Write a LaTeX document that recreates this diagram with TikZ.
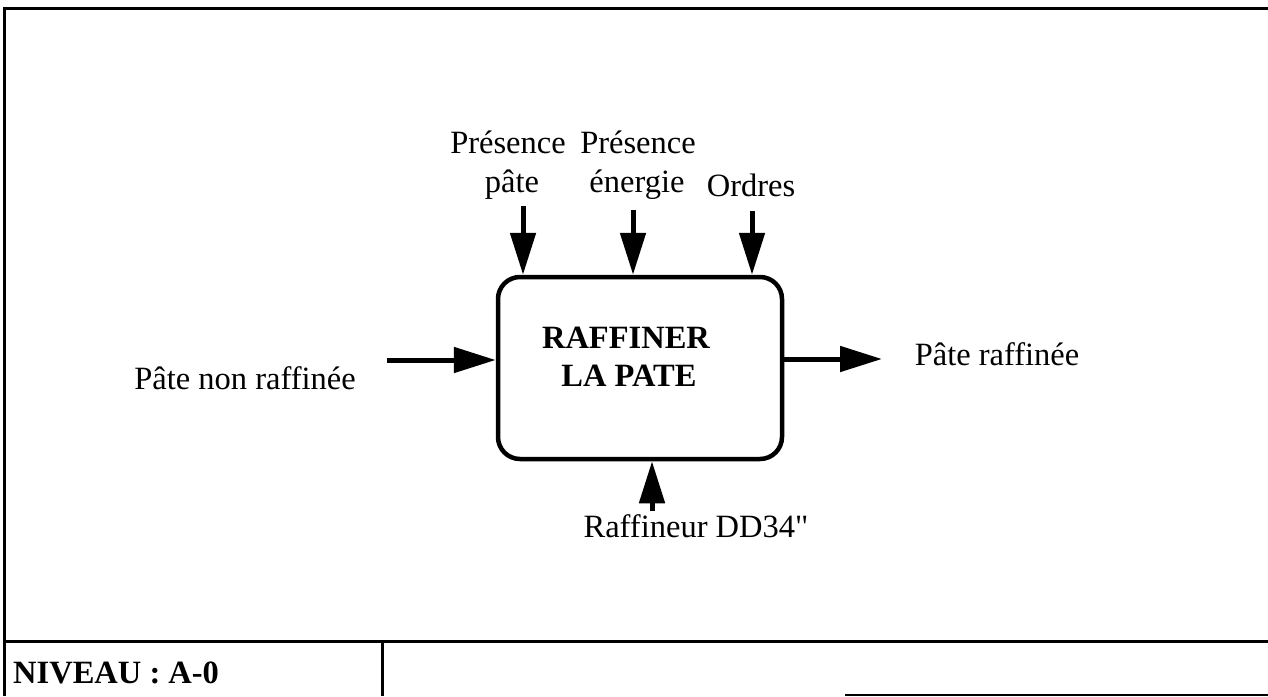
\documentclass[tikz,border=0pt]{standalone}
\usepackage{fontspec}
\setmainfont{Liberation Serif}[Ligatures=TeXOff]
\usetikzlibrary{arrows.meta}
\begin{document}
\begin{tikzpicture}[x=1pt,y=-1pt,
  lbl/.style={font=\fontsize{32.5}{39}\selectfont, inner sep=0pt, anchor=base},
  ttl/.style={font=\fontsize{32.5}{39}\selectfont\bfseries, inner sep=0pt, anchor=base},
  frm/.style={line width=3pt},
  arr/.style={line width=5pt, -{Triangle[length=42pt,width=25pt]}},
  proc/.style={draw, line width=4.5pt, rounded corners=22pt, minimum width=284pt, minimum height=182pt, inner sep=0pt}]
\useasboundingbox (0,0) rectangle (1268,696);
% frame
\draw[frm] (1268,8) -- (4,8) -- (4,696);
\draw[frm] (4,641) -- (1268,641);
\draw[frm] (382,641) -- (382,696);
\draw[line width=2pt] (845,694.5) -- (1268,694.5);
\node[ttl, anchor=base west] (niv) at (13,683) {NIVEAU : A-0};
% process box
\node[proc] (box) at (640,368) {};
\node[ttl] (t1) at (626,348) {RAFFINER};
\node[ttl] (t2) at (629,386) {LA PATE};
% labels
\node[lbl] (pp1) at (508,153) {Présence};
\node[lbl] (pp2) at (512,192) {pâte};
\node[lbl] (pe1) at (638,153) {Présence};
\node[lbl] (pe2) at (637,192) {énergie};
\node[lbl] (ord) at (751,196) {Ordres};
\node[lbl] (in) at (245,389) {Pâte non raffinée};
\node[lbl] (out) at (997,365) {Pâte raffinée};
\node[lbl] (mech) at (696,537) {Raffineur DD34"};
% arrows
\coordinate (a1) at (523,206);
\coordinate (a2) at (633,210);
\coordinate (a3) at (752,211);
\coordinate (a4) at (387,360);
\coordinate (a5) at (882,359);
\coordinate (a6) at (652,511);
\draw[arr] (a1) -- (a1 |- box.north);
\draw[arr] (a2) -- (a2 |- box.north);
\draw[arr] (a3) -- (a3 |- box.north);
\draw[arr] (a4) -- (a4 -| box.west);
\draw[arr] (a5 -| box.east) -- (a5);
\draw[arr] (a6) -- (a6 |- box.south);
\end{tikzpicture}
\end{document}
